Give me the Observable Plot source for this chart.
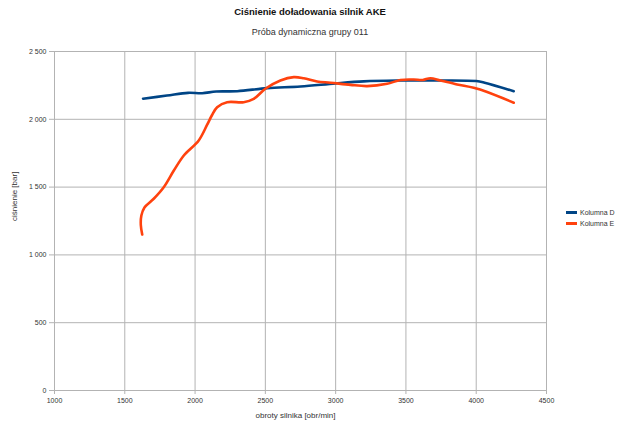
<!DOCTYPE html>
<html>
<head>
<meta charset="utf-8">
<script src="https://cdn.jsdelivr.net/npm/d3@7"></script>
<script src="https://cdn.jsdelivr.net/npm/@observablehq/plot@0.6"></script>
<style>
  body { margin: 0; background: white; font-family: "Liberation Sans", Arial, sans-serif; }
  #wrap { position: relative; width: 620px; height: 433px; overflow: hidden; }
  #title { position: absolute; left: 0; width: 620px; top: 6px; text-align: center; font-size: 9.5px; font-weight: bold; color: #111; }
  #subtitle { position: absolute; left: 0; width: 620px; top: 27px; text-align: center; font-size: 9px; color: #333; }
  .leg { position: absolute; left: 566px; font-size: 7px; color: #333; display: flex; align-items: center; }
  .sw { width: 11px; height: 3px; margin-right: 3px; }
</style>
</head>
<body>
<div id="wrap">
  <div id="chart"></div>
  <div id="title">Ciśnienie doładowania silnik AKE</div>
  <div id="subtitle">Próba dynamiczna grupy 011</div>
  <div id="legend"></div>
</div>
<script>
const title = "Ciśnienie doładowania silnik AKE";
const subtitle = "Próba dynamiczna grupy 011";
const xLabel = "obroty silnika [obr/min]";
const yLabel = "ciśnienie [bar]";
const seriesNames = ["Kolumna D", "Kolumna E"];
const seriesColors = ["#004586", "#ff420e"];
const xTicks = [1000, 1500, 2000, 2500, 3000, 3500, 4000, 4500];
const yTicks = [0, 500, 1000, 1500, 2000, 2500];

const rpmD = [1630, 1800, 1950, 2050, 2150, 2300, 2513, 2750, 3000, 3200, 3437, 3700, 4000, 4060, 4267];
const valD = [2152, 2175, 2195, 2192, 2205, 2207, 2230, 2242, 2265, 2280, 2286, 2286, 2282, 2270, 2207];

const rpmE = [1624, 1614, 1618, 1640, 1706, 1777, 1849, 1920, 2026, 2086, 2120, 2157, 2228, 2346, 2417, 2500, 2607, 2702, 2773, 2868, 2963, 3105, 3224, 3366, 3461, 3555, 3620, 3674, 3745, 3864, 3982, 4078, 4267];
const valE = [1150, 1220, 1290, 1350, 1414, 1499, 1622, 1733, 1844, 1960, 2030, 2089, 2126, 2126, 2150, 2225, 2286, 2311, 2303, 2279, 2270, 2254, 2245, 2262, 2290, 2293, 2290, 2303, 2286, 2257, 2232, 2201, 2122];

const dataD = rpmD.map((x, i) => ({x, y: valD[i]}));
const dataE = rpmE.map((x, i) => ({x, y: valE[i]}));

const fmtY = d3.formatLocale({decimal: ",", thousands: " ", grouping: [3], currency: ["", ""]}).format(",d");

document.getElementById("title").textContent = title;
document.getElementById("subtitle").textContent = subtitle;

const chart = Plot.plot({
  width: 620,
  height: 433,
  marginLeft: 54,
  marginRight: 74,
  marginTop: 51,
  marginBottom: 43,
  style: {fontFamily: "Liberation Sans, Arial, sans-serif", fontSize: "7px", color: "#333", background: "white"},
  x: {domain: [1000, 4500], label: null},
  y: {domain: [0, 2500], label: null},
  marks: [
    Plot.gridX(xTicks, {stroke: "#b3b3b3", strokeOpacity: 1}),
    Plot.gridY(yTicks, {stroke: "#b3b3b3", strokeOpacity: 1}),
    Plot.axisX({ticks: xTicks, tickSize: 4, tickPadding: 4, tickFormat: d => String(d), stroke: "#b3b3b3", label: null}),
    Plot.axisY({ticks: yTicks, tickSize: 5, tickPadding: 3, tickFormat: fmtY, stroke: "#b3b3b3", label: null}),
    Plot.text([xLabel], {frameAnchor: "bottom", dy: 27, dx: -5, text: d => d, fontSize: 8, fill: "#333"}),
    Plot.text([yLabel], {frameAnchor: "left", dx: -40, rotate: -90, text: d => d, fontSize: 8, fill: "#333"}),
    Plot.line(dataD, {x: "x", y: "y", stroke: seriesColors[0], strokeWidth: 2.6, curve: "catmull-rom"}),
    Plot.line(dataE, {x: "x", y: "y", stroke: seriesColors[1], strokeWidth: 2.6, curve: "catmull-rom"})
  ]
});
document.getElementById("chart").appendChild(chart);

const legend = document.getElementById("legend");
seriesNames.forEach((name, i) => {
  const row = document.createElement("div");
  row.className = "leg";
  row.style.top = (209 + i * 11) + "px";
  const sw = document.createElement("div");
  sw.className = "sw";
  sw.style.background = seriesColors[i];
  row.appendChild(sw);
  const t = document.createElement("span");
  t.textContent = name;
  row.appendChild(t);
  legend.appendChild(row);
});
</script>
</body>
</html>
